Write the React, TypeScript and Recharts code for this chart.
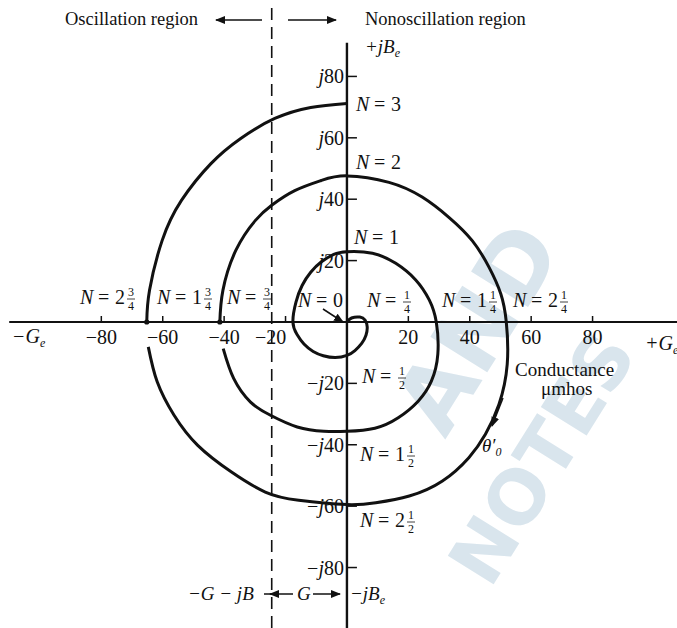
import { LineChart, Line, XAxis, YAxis, ReferenceLine, ReferenceDot } from "recharts";

// spiral, N = 0 at the centre, turning clockwise outwards.
// The ink breaks just below the axis on the left, so it is kept in three pieces.
const innerG = [
  0, 1.5, 4.2, 5.9, 6.6, 6.2, 4.8, 2.6, 0, -3.8, -7.7, -11.0, -14.0, -16.3, -17.6, -16.6, -14.6,
  -11.8, -8.3, -4.3, 0, 8.3, 15.9, 22.4, 26.8, 29.1, 29.6, 27.5, 23.2, 16.7, 9.1, 0, -7.5, -16.2,
  -24.9, -31.4, -36.9, -40.3,
];
const innerB = [
  0, 1.3, 1.6, 0.6, -1.6, -4.3, -7.0, -9.3, -10.9, -11.6, -11.0, -9.6, -7.2, -4.0, 0, 6.5, 11.9,
  16.2, 19.6, 22.0, 22.9, 22.4, 19.1, 13.7, 7.2, 0, -10.5, -19.3, -25.8, -31.2, -34.6, -35.6, -35.6,
  -34.2, -30.4, -26.1, -18.4, -8.7,
];
const middleG = [
  -41.4, -40.4, -36.2, -29.8, -24.4, -17.0, -8.4, 0, 13.7, 24.5, 33.2, 40.8, 46.3, 50.1, 51.9, 52.2,
  49.5, 45.1, 39.7, 31.1, 20.3, 9.4, 0, -15.7, -26.6, -37.6, -48.6, -56.3, -61.8, -64.7,
];
const middleB = [
  0, 10.3, 23.3, 33.1, 38.1, 42.8, 46.1, 47.6, 45.5, 40.7, 34.1, 26.5, 17.8, 9.2, 0, -13.8, -26.9,
  -36.6, -44.2, -51.8, -56.7, -58.9, -59.5, -58.1, -55.4, -48.9, -40.2, -30.4, -19.5, -8.1,
];
const outerG = [-65.2, -64.3, -60.2, -53.9, -44.3, -34.6, -23.5, -11.8, 0];
const outerB = [0, 10.3, 26.5, 39.6, 51.6, 59.8, 66.3, 69.9, 71.2];

const toPoints = (gs: number[], bs: number[]) => gs.map((g, i) => ({ g, b: bs[i] }));
const pieces = [toPoints(innerG, innerB), toPoints(middleG, middleB), toPoints(outerG, outerB)];

const axisDotsG = [-65.2, -41.4];

const gTicks = [-80, -60, -40, -20, 20, 40, 60, 80];
const gTickLabels = ["−80", "−60", "−40", "−20", "20", "40", "60", "80"];
const bTicks = [80, 60, 40, 20, -20, -40, -60, -80];
const bTickLabels = ["80", "60", "40", "20", "20", "40", "60", "80"];
const oscBoundary = -24.5;

const serif = "'Liberation Serif', 'DejaVu Serif', serif";
const ink = "#111";

function NLabel({ x, y, whole, num, den }: { x: number; y: number; whole?: string; num?: string; den?: string }) {
  const fx = x + 36 + (whole ? 11 : 0);
  return (
    <g fontFamily={serif} fill={ink}>
      <text x={x} y={y} fontSize={20} fontStyle="italic">N</text>
      <text x={x + 18} y={y} fontSize={20}>=</text>
      {whole && <text x={x + 35} y={y} fontSize={20}>{whole}</text>}
      {num && (
        <g>
          <text x={fx + 4} y={y - 8} fontSize={12} textAnchor="middle">{num}</text>
          <line x1={fx} x2={fx + 8} y1={y - 5} y2={y - 5} stroke={ink} strokeWidth={0.8} />
          <text x={fx + 4} y={y + 6} fontSize={12} textAnchor="middle">{den}</text>
        </g>
      )}
    </g>
  );
}

export default function App() {
  return (
    <div style={{ position: "absolute", left: 0, top: 0, width: 677, height: 628, background: "#fff" }}>
      {/* faint watermark of the scanned page */}
      <svg width={677} height={628} style={{ position: "absolute", left: 0, top: 0 }}>
        <g fontFamily="'DejaVu Sans', sans-serif" fontWeight="bold" fill="#d9e5ed">
          <text x={445} y={440} fontSize={92} transform="rotate(-58 445 440)">AND</text>
          <text x={490} y={590} fontSize={74} transform="rotate(-58 490 590)">NOTES</text>
        </g>
      </svg>
      <LineChart width={677} height={628} margin={{ top: 0, right: 0, bottom: 0, left: 0 }}>
        <XAxis type="number" dataKey="g" domain={[-113, 107.5]} hide allowDataOverflow />
        <YAxis type="number" dataKey="b" domain={[-99.7, 104.9]} hide allowDataOverflow />
        <ReferenceLine segment={[{ x: -110, y: 0 }, { x: 107.5, y: 0 }]} stroke={ink} strokeWidth={2.2} />
        <ReferenceLine segment={[{ x: 0, y: -99.7 }, { x: 0, y: 91 }]} stroke={ink} strokeWidth={2.4} />
        <ReferenceLine
          segment={[{ x: oscBoundary, y: -99.7 }, { x: oscBoundary, y: 103 }]}
          stroke={ink}
          strokeWidth={1.6}
          strokeDasharray="12 7"
        />
        {gTicks.map((t, i) => (
          <ReferenceDot
            key={"g" + t}
            x={t}
            y={0}
            r={0}
            shape={(p: any) => (
              <g>
                <line x1={p.cx} x2={p.cx} y1={p.cy} y2={p.cy - 6} stroke={ink} strokeWidth={1.5} />
                <text
                  x={p.cx + (t === -20 ? -15 : 0)}
                  y={p.cy + 22}
                  textAnchor="middle"
                  fontSize={20}
                  fontFamily={serif}
                  fill={ink}
                >
                  {gTickLabels[i]}
                </text>
              </g>
            )}
          />
        ))}
        {bTicks.map((t, i) => (
          <ReferenceDot
            key={"b" + t}
            x={0}
            y={t}
            r={0}
            shape={(p: any) => (
              <g>
                <line x1={p.cx} x2={p.cx + 10} y1={p.cy} y2={p.cy} stroke={ink} strokeWidth={1.5} />
                <text x={p.cx - 3} y={p.cy + 7} textAnchor="end" fontSize={20} fontFamily={serif} fill={ink}>
                  {t < 0 ? "−" : ""}
                  <tspan fontStyle="italic">j</tspan>
                  {bTickLabels[i]}
                </text>
              </g>
            )}
          />
        ))}
        {axisDotsG.map((g) => (
          <ReferenceDot key={"d" + g} x={g} y={0} r={2.6} fill={ink} stroke="none" />
        ))}
        {pieces.map((d, i) => (
          <Line
            key={"s" + i}
            data={d}
            type="natural"
            dataKey="b"
            stroke={ink}
            strokeWidth={3}
            dot={false}
            activeDot={false}
            isAnimationActive={false}
          />
        ))}
      </LineChart>
      <svg width={677} height={628} style={{ position: "absolute", left: 0, top: 0, pointerEvents: "none" }}>
        <defs>
          <marker id="ah" markerWidth="10" markerHeight="8" refX="9" refY="4" orient="auto" markerUnits="userSpaceOnUse">
            <path d="M0,0 L10,4 L0,8 Z" fill={ink} />
          </marker>
        </defs>
        <g fontFamily={serif} fill={ink}>
          <text x={65} y={25} fontSize={18.5}>Oscillation region</text>
          <text x={365} y={25} fontSize={18.5}>Nonoscillation region</text>
          <text x={365} y={53} fontSize={19} fontStyle="italic">+jB<tspan fontSize={12} dy={4}>e</tspan></text>
          <text x={12} y={343} fontSize={20} fontStyle="italic">−G<tspan fontSize={12} dy={4}>e</tspan></text>
          <text x={645} y={350} fontSize={20} fontStyle="italic">+G<tspan fontSize={12} dy={4}>e</tspan></text>
          <text x={515} y={376} fontSize={19}>Conductance</text>
          <text x={541} y={395} fontSize={19}>μmhos</text>
          <text x={188} y={600} fontSize={19} fontStyle="italic">−G − jB</text>
          <text x={297} y={600} fontSize={19} fontStyle="italic">G</text>
          <text x={350} y={600} fontSize={19} fontStyle="italic">−jB<tspan fontSize={12} dy={4}>e</tspan></text>
          <text x={482} y={452} fontSize={19} fontStyle="italic">θ′<tspan fontSize={12} dy={4}>0</tspan></text>
        </g>
        <g stroke={ink} strokeWidth={1.5}>
          <line x1={262} y1={20} x2={216} y2={20} markerEnd="url(#ah)" />
          <line x1={288} y1={20} x2={336} y2={20} markerEnd="url(#ah)" />
          <line x1={293} y1={594} x2={270} y2={594} markerEnd="url(#ah)" />
          <line x1={313} y1={594} x2={340} y2={594} markerEnd="url(#ah)" />
          <line x1={264} y1={594} x2={273} y2={594} />
          <line x1={323} y1={309} x2={343} y2={322} markerEnd="url(#ah)" />
          <line x1={503} y1={398} x2={492} y2={426} markerEnd="url(#ah)" />
        </g>
        <NLabel x={356} y={111} whole="3" />
        <NLabel x={356} y={169} whole="2" />
        <NLabel x={354} y={244} whole="1" />
        <NLabel x={298} y={307} whole="0" />
        <NLabel x={367} y={307} num="1" den="4" />
        <NLabel x={442} y={307} whole="1" num="1" den="4" />
        <NLabel x={513} y={307} whole="2" num="1" den="4" />
        <NLabel x={80} y={304} whole="2" num="3" den="4" />
        <NLabel x={157} y={304} whole="1" num="3" den="4" />
        <NLabel x={227} y={304} num="3" den="4" />
        <NLabel x={362} y={383} num="1" den="2" />
        <NLabel x={360} y={461} whole="1" num="1" den="2" />
        <NLabel x={360} y={527} whole="2" num="1" den="2" />
      </svg>
    </div>
  );
}
